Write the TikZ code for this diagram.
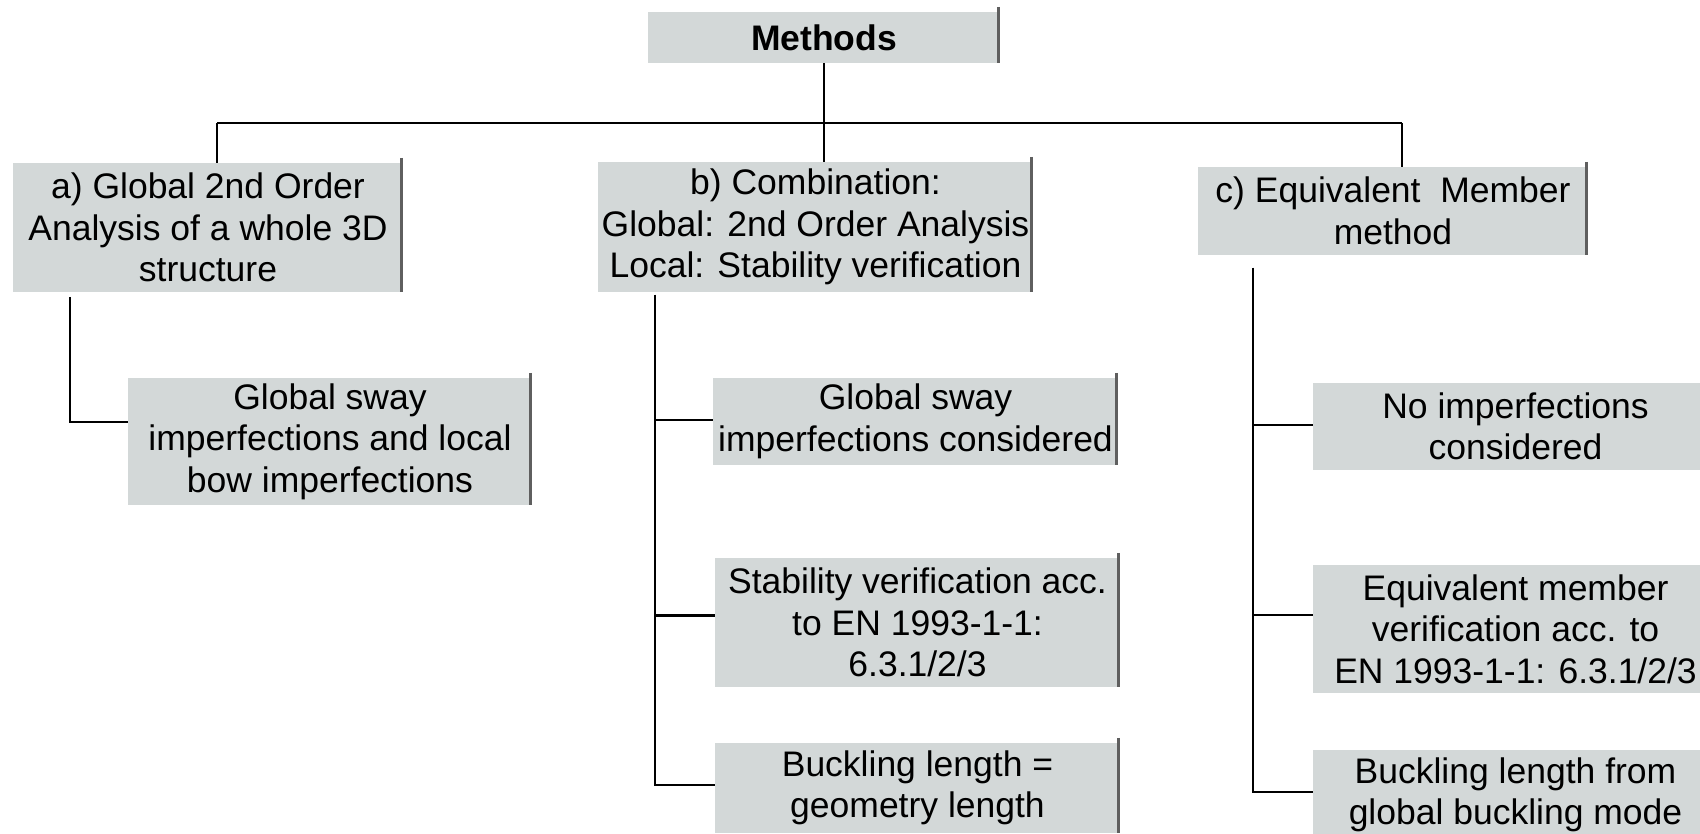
\documentclass[tikz,border=0pt]{standalone}
\usepackage{fontspec}
\setmainfont{Liberation Sans}
\usetikzlibrary{calc}
\definecolor{boxfill}{RGB}{211,216,216}
\definecolor{edgegray}{RGB}{95,95,95}
\tikzset{
  box/.style={fill=boxfill, inner sep=0pt, align=center,
    font=\fontsize{35.5}{41.5}\selectfont, text=black},
  conn/.style={draw=black, line width=2.1pt},
  redge/.style={draw=edgegray, line width=3.5pt},
}
\newcommand\mkbox[6]{%
  \node[box, minimum width=#4, minimum height=#5] (#1) at (#2,#3) {#6};
  \draw[redge] ($(#1.north east)+(-1.75,-5)$) -- ($(#1.south east)+(-1.75,0)$);
}
\begin{document}
\begin{tikzpicture}[x=1pt,y=-1pt]
\useasboundingbox[fill=white] (0,0) rectangle (1700,834);
\mkbox{M}{824}{37.5}{352}{51}{\textbf{Methods}}
\mkbox{a}{208}{227.5}{390}{129}{a) Global 2nd Order\\Analysis of a whole 3D\\structure}
\mkbox{b}{815.5}{227}{435}{130}{b) Combination:\\Global: 2nd Order Analysis\\Local: Stability verification}
\mkbox{c}{1393}{211}{390}{88}{c) Equivalent\ \ Member\\method}
\mkbox{a1}{330}{441.5}{404}{127}{Global sway\\imperfections and local\\bow imperfections}
\mkbox{b1}{915.5}{421.5}{405}{87}{Global sway\\imperfections considered}
\mkbox{b2}{917.5}{622.5}{405}{129}{Stability verification acc.\\to EN 1993-1-1:\\6.3.1/2/3}
\mkbox{b3}{917.5}{788}{405}{90}{Buckling length =\\geometry length}
\mkbox{c1}{1515.5}{426.5}{405}{87}{No imperfections\\considered}
\mkbox{c2}{1515.5}{629}{405}{128}{Equivalent member\\verification acc. to\\EN 1993-1-1: 6.3.1/2/3}
\mkbox{c3}{1515.5}{795}{405}{90}{Buckling length from\\global buckling mode}
% connectors
\coordinate (barL) at (217,123);
\coordinate (barR) at (1402,123);
\draw[conn] (M.south) -- (M.south |- b.north);
\draw[conn] (barL) -- (barR);
\draw[conn] (barL) -- (barL |- a.north);
\draw[conn] (barR) -- (barR |- c.north);
\coordinate (aT) at (70,297);
\draw[conn] (aT) |- ($(a1.west)+(0,-19.5)$);
\coordinate (bT) at (655,295);
\draw[conn] (bT) |- ($(b1.west)+(0,-1.5)$);
\draw[conn] (bT) |- ($(b2.west)+(0,-7)$);
\draw[conn] (bT) |- ($(b3.west)+(0,-3)$);
\coordinate (cT) at (1253,268);
\draw[conn] (cT) |- ($(c1.west)+(0,-1.5)$);
\draw[conn] (cT) |- ($(c2.west)+(0,-14)$);
\draw[conn] (cT) |- ($(c3.west)+(0,-3)$);
\end{tikzpicture}
\end{document}
